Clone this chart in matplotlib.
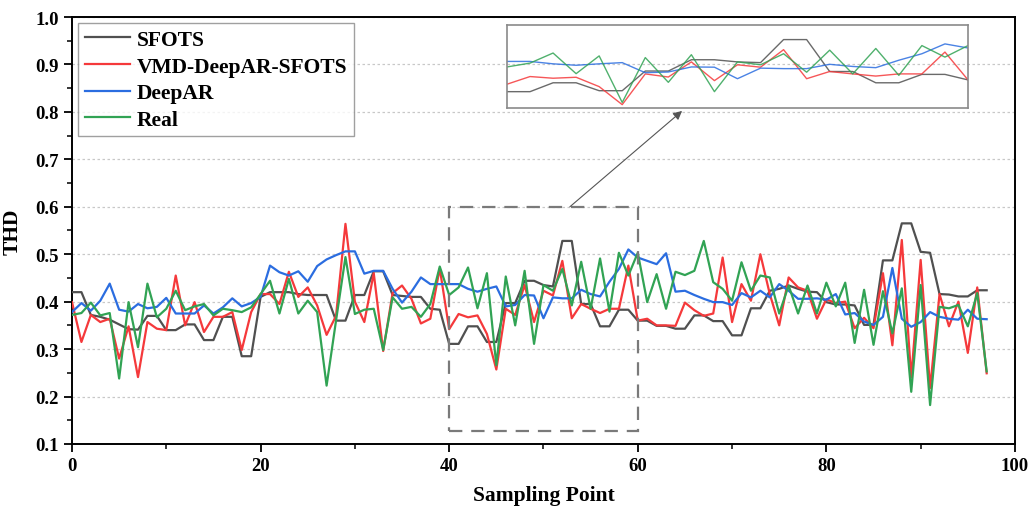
import matplotlib
matplotlib.use("Agg")
import matplotlib.pyplot as plt
from matplotlib.ticker import MultipleLocator
from matplotlib.patches import Rectangle
import numpy as np

plt.rcParams['font.family'] = ['Liberation Serif', 'DejaVu Serif']
plt.rcParams['font.weight'] = 'bold'

sfots = [0.42, 0.42, 0.372, 0.368, 0.362, 0.352, 0.342, 0.341, 0.37, 0.37,
         0.34, 0.34, 0.352, 0.352, 0.319, 0.319, 0.368, 0.368, 0.285, 0.285,
         0.41, 0.42, 0.42, 0.42, 0.416, 0.414, 0.414, 0.414, 0.36, 0.36,
         0.414, 0.414, 0.464, 0.464, 0.414, 0.412, 0.41, 0.41, 0.385, 0.383,
         0.311, 0.311, 0.348, 0.348, 0.315, 0.315, 0.397, 0.397, 0.444, 0.444,
         0.435, 0.432, 0.528, 0.528, 0.395, 0.395, 0.348, 0.348, 0.383, 0.383,
         0.36, 0.36, 0.349, 0.349, 0.343, 0.343, 0.371, 0.371, 0.359, 0.359,
         0.329, 0.329, 0.386, 0.386, 0.423, 0.427, 0.434, 0.427, 0.421, 0.42,
         0.399, 0.394, 0.394, 0.392, 0.351, 0.351, 0.487, 0.487, 0.565, 0.565,
         0.505, 0.503, 0.416, 0.415, 0.411, 0.411, 0.424, 0.424]

vmd = [0.399, 0.315, 0.372, 0.357, 0.364, 0.28, 0.348, 0.241, 0.357, 0.343,
       0.34, 0.455, 0.35, 0.399, 0.336, 0.368, 0.368, 0.378, 0.298, 0.378,
       0.416, 0.416, 0.395, 0.463, 0.41, 0.43, 0.392, 0.33, 0.37, 0.564,
       0.40, 0.357, 0.46, 0.296, 0.418, 0.434, 0.406, 0.354, 0.364, 0.47,
       0.342, 0.374, 0.367, 0.371, 0.332, 0.257, 0.385, 0.372, 0.435, 0.357,
       0.423, 0.413, 0.486, 0.365, 0.395, 0.385, 0.376, 0.385, 0.385, 0.476,
       0.36, 0.364, 0.35, 0.35, 0.349, 0.398, 0.382, 0.37, 0.375, 0.493,
       0.357, 0.437, 0.402, 0.5, 0.416, 0.35, 0.451, 0.43, 0.423, 0.364,
       0.405, 0.397, 0.4, 0.344, 0.366, 0.344, 0.46, 0.308, 0.53, 0.24,
       0.488, 0.218, 0.416, 0.348, 0.40, 0.292, 0.43, 0.249]

deepar = [0.378, 0.397, 0.381, 0.402, 0.438, 0.383, 0.379, 0.395, 0.386, 0.389,
          0.408, 0.375, 0.375, 0.375, 0.392, 0.375, 0.388, 0.407, 0.39, 0.397,
          0.41, 0.476, 0.462, 0.455, 0.464, 0.442, 0.475, 0.489, 0.498, 0.506,
          0.506, 0.459, 0.465, 0.465, 0.427, 0.398, 0.421, 0.451, 0.437, 0.437,
          0.437, 0.437, 0.427, 0.421, 0.427, 0.432, 0.39, 0.393, 0.414, 0.413,
          0.365, 0.409, 0.407, 0.407, 0.425, 0.416, 0.411, 0.442, 0.469, 0.51,
          0.493, 0.486, 0.479, 0.502, 0.421, 0.423, 0.414, 0.406, 0.399, 0.399,
          0.393, 0.418, 0.409, 0.423, 0.409, 0.437, 0.423, 0.406, 0.406, 0.407,
          0.404, 0.416, 0.373, 0.376, 0.358, 0.351, 0.368, 0.471, 0.364, 0.347,
          0.357, 0.378, 0.368, 0.364, 0.362, 0.383, 0.364, 0.363]

real = [0.372, 0.376, 0.398, 0.371, 0.376, 0.238, 0.399, 0.304, 0.438, 0.367,
        0.385, 0.423, 0.382, 0.39, 0.395, 0.371, 0.385, 0.382, 0.378, 0.388,
        0.416, 0.444, 0.375, 0.448, 0.375, 0.402, 0.378, 0.223, 0.36, 0.494,
        0.374, 0.383, 0.385, 0.298, 0.409, 0.385, 0.389, 0.368, 0.395, 0.474,
        0.414, 0.43, 0.472, 0.386, 0.46, 0.266, 0.453, 0.35, 0.465, 0.311,
        0.435, 0.423, 0.469, 0.392, 0.484, 0.385, 0.491, 0.379, 0.503, 0.455,
        0.503, 0.399, 0.458, 0.385, 0.463, 0.456, 0.465, 0.528, 0.441, 0.427,
        0.402, 0.483, 0.423, 0.455, 0.451, 0.375, 0.434, 0.375, 0.434, 0.375,
        0.44, 0.39, 0.44, 0.313, 0.425, 0.309, 0.422, 0.333, 0.428, 0.21,
        0.435, 0.182, 0.389, 0.386, 0.393, 0.348, 0.418, 0.253]

labels = ['SFOTS', 'VMD-DeepAR-SFOTS', 'DeepAR', 'Real']
colors = ['#505050', '#f5393b', '#2b6de0', '#31a354']
series = [sfots, vmd, deepar, real]
x = np.arange(len(sfots))

fig = plt.figure(figsize=(10.3, 5.1), dpi=100)
ax = fig.add_axes([0.0699, 0.1275, 0.9155, 0.8372])

for s, c, l in zip(series, colors, labels):
    ax.plot(x, s, color=c, lw=1.6, label=l, zorder=3)

ax.set_xlim(0, 100)
ax.set_ylim(0.1, 1.0)
ax.xaxis.set_major_locator(MultipleLocator(20))
ax.xaxis.set_minor_locator(MultipleLocator(10))
ax.yaxis.set_major_locator(MultipleLocator(0.1))
ax.yaxis.set_minor_locator(MultipleLocator(0.05))
ax.yaxis.set_major_formatter(plt.FuncFormatter(lambda v, p: f"{v:.1f}"))
ax.tick_params(which='major', direction='out', length=6, width=1.3, labelsize=13.5)
ax.tick_params(which='minor', direction='out', length=3.5, width=1.1)
for lab in ax.get_xticklabels() + ax.get_yticklabels():
    lab.set_fontweight('bold')
for sp in ax.spines.values():
    sp.set_linewidth(1.4)
ax.grid(axis='y', which='major', color='#c8c8c8', linestyle=(0, (2, 2)), lw=0.9, zorder=0)

ax.set_xlabel('Sampling Point', fontsize=15.5, fontweight='bold', labelpad=8)
ax.set_ylabel('THD', fontsize=15.5, fontweight='bold', labelpad=9)

leg = ax.legend(loc='upper left', bbox_to_anchor=(0.0, 1.0), fontsize=15.5, frameon=True,
                fancybox=False, edgecolor='#888888', handlelength=2.1,
                handletextpad=0.3, borderpad=0.3, labelspacing=0.3, borderaxespad=0.3)
leg.get_frame().set_linewidth(1.0)
for t in leg.get_texts():
    t.set_fontweight('bold')

# dashed zoom rectangle
rect = Rectangle((40, 0.127), 20, 0.473, fill=False, edgecolor='#7a7a7a',
                 lw=1.6, linestyle=(0, (6, 4)), zorder=4)
ax.add_patch(rect)

# arrow
ax.annotate('', xy=(64.7, 0.802), xytext=(52.8, 0.6),
            arrowprops=dict(arrowstyle='-|>', color='#555555', lw=0.8,
                            mutation_scale=13, shrinkA=0, shrinkB=0), zorder=5)

# inset
axin = fig.add_axes([0.4922, 0.7863, 0.4476, 0.1633])
axin.set_facecolor('none')
for s, c in zip(series, colors):
    axin.plot(x, s, color=c, lw=1.0, alpha=0.85)
axin.set_xlim(40, 60)
axin.set_ylim(0.243, 0.59)
axin.set_xticks([])
axin.set_yticks([])
for sp in axin.spines.values():
    sp.set_color('#8a8a8a')
    sp.set_linewidth(1.2)

fig.savefig('out.png', dpi=100)
